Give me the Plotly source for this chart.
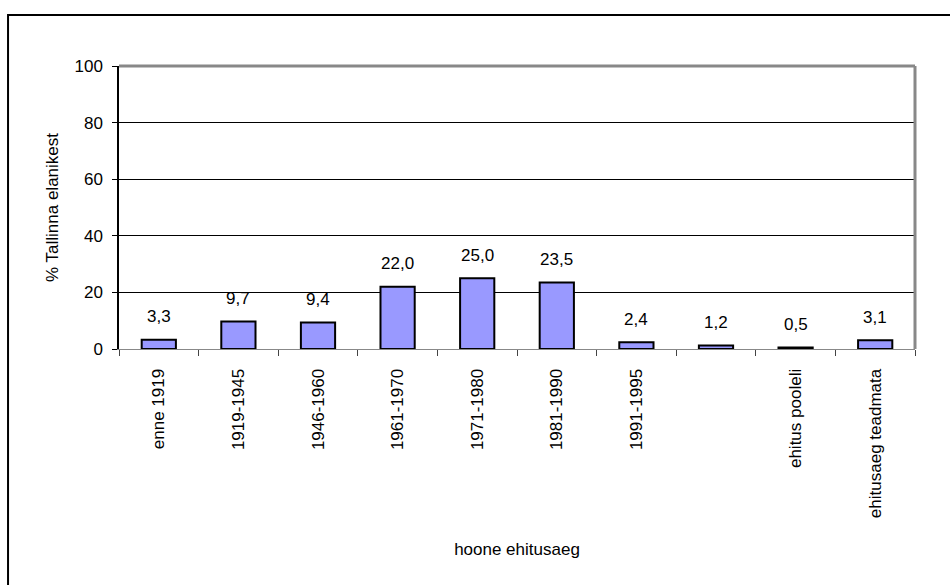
import plotly.graph_objects as go

labels = ["enne 1919", "1919-1945", "1946-1960", "1961-1970", "1971-1980",
          "1981-1990", "1991-1995", "", "ehitus pooleli", "ehitusaeg teadmata"]
values = [3.3, 9.7, 9.4, 22.0, 25.0, 23.5, 2.4, 1.2, 0.5, 3.1]
y_ticks = [0, 20, 40, 60, 80, 100]

FONT = "Liberation Sans, Arial, sans-serif"
FS = 17
positions = list(range(len(labels)))

fig = go.Figure()
fig.add_trace(go.Bar(
    x=positions, y=values,
    marker=dict(color="#9999FF", line=dict(color="black", width=2)),
    hoverinfo="skip",
))

annotations = []
for p, v in zip(positions, values):
    annotations.append(dict(
        x=p, y=v, xref="x", yref="y",
        text=f"{v:.1f}".replace(".", ","),
        showarrow=False, yanchor="middle", yshift=23,
        font=dict(family=FONT, size=FS, color="black"),
    ))

fig.update_layout(
    width=950, height=585,
    margin=dict(l=119, r=35, t=66, b=236),
    paper_bgcolor="white", plot_bgcolor="white",
    bargap=0.57,
    showlegend=False,
    font=dict(family=FONT, size=FS, color="black"),
    annotations=annotations,
    shapes=[
        dict(type="line", xref="paper", yref="paper", x0=0, x1=1, y0=1, y1=1,
             line=dict(color="#888888", width=3)),
        dict(type="line", xref="paper", yref="paper", x0=1, x1=1, y0=0, y1=1,
             line=dict(color="#888888", width=3)),
        dict(type="rect", xref="paper", yref="paper", x0=-0.1394, x1=1.2,
             y0=-1.0, y1=1.18, line=dict(color="black", width=2)),
    ],
)

fig.update_xaxes(
    type="category", automargin=False,
    tickvals=positions, ticktext=labels,
    tickangle=-90, tickson="boundaries",
    ticks="outside", ticklen=6, tickcolor="#444444",
    showline=True, linecolor="#888888", linewidth=1,
    showgrid=False,
    ticklabelstandoff=12,
    range=[-0.5, len(labels) - 0.5],
    title=dict(text="hoone ehitusaeg", standoff=25,
               font=dict(family=FONT, size=FS)),
    tickfont=dict(family=FONT, size=FS),
)

fig.update_yaxes(
    range=[0, 100], tickvals=y_ticks, automargin=False,
    ticks="outside", ticklen=5, tickcolor="black",
    showline=True, linecolor="black", linewidth=1.5,
    showgrid=True, gridcolor="black", gridwidth=1,
    zeroline=False,
    ticklabelstandoff=6,
    title=dict(text="% Tallinna elanikest", standoff=12,
               font=dict(family=FONT, size=FS)),
    tickfont=dict(family=FONT, size=FS),
)

fig.write_html("out.html", config={"displayModeBar": False},
               post_script="document.body.style.margin='0';")
